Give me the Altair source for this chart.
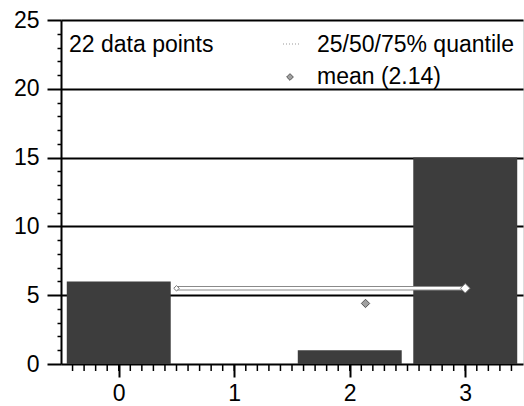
import altair as alt
import pandas as pd

# Histogram of the observed values
values = [0, 1, 2, 3]
counts = [6, 0, 1, 15]

# Summary statistics drawn across the bars
q25 = 0.5
q50 = 3.0
q75 = 3.0
quantile_level = 5.5
mean_level = 4.4

n_points = sum(counts)
mean_value = sum(v * c for v, c in zip(values, counts)) / n_points

FONT = "Liberation Sans"
FS = 23
BAR_HALF = 0.45

bars_df = pd.DataFrame({"value": values, "count": counts})
bars_df["lo"] = bars_df["value"] - BAR_HALF
bars_df["hi"] = bars_df["value"] + BAR_HALF

x_scale = alt.Scale(domain=[-0.5, 3.5], nice=False, zero=False)
y_scale = alt.Scale(domain=[0, 25], nice=False)

# Minor tick positions: tenths on x, units on y (long ones at multiples of 5)
x_minor = [round(-0.4 + 0.1 * i, 1) for i in range(39)]
y_tick_vals = list(range(0, 26))
is_five = "datum.value % 5 == 0"

x_axis = alt.Axis(
    values=values, tickCount=200, title=None, grid=False, format="d",
    labelOverlap=False, labelFlush=False,
    domainColor="black", domainWidth=2, tickColor="black", tickWidth=2,
    tickSize=13, labelFont=FONT, labelFontSize=FS, labelColor="black",
    labelPadding=5, orient="bottom",
)
y_axis = alt.Axis(
    values=y_tick_vals, tickCount=200, title=None, grid=True,
    labelExpr=f"{is_five} ? format(datum.value, 'd') : ''",
    labelOverlap=False, labelFlush=False,
    gridColor="black", gridWidth=2,
    gridOpacity={"condition": {"test": f"{is_five} && datum.value > 0", "value": 1}, "value": 0},
    domainColor="black", domainWidth=2, tickColor="black",
    tickWidth={"condition": {"test": is_five, "value": 2}, "value": 1.5},
    tickSize={"condition": {"test": is_five, "value": 14}, "value": 4},
    labelFont=FONT, labelFontSize=FS, labelColor="black",
    labelPadding=8, orient="left",
)

bars = alt.Chart(bars_df).mark_rect(color="#3d3d3d").encode(
    x=alt.X("lo:Q", scale=x_scale, axis=x_axis),
    x2="hi:Q",
    y=alt.Y("count:Q", scale=y_scale, axis=y_axis),
    y2=alt.datum(0),
)

# Short ticks under the x axis at every tenth
minor_x = alt.Chart(pd.DataFrame({"t": x_minor})).mark_rule(
    color="black", strokeWidth=1.5
).encode(x=alt.X("t:Q", scale=x_scale), y=alt.value(345), y2=alt.value(351))

q_df = pd.DataFrame({"lo": [q25], "hi": [q75], "y": [quantile_level]})
q_outline = alt.Chart(q_df).mark_rule(color="#8a8a8a", strokeWidth=4.5).encode(
    x="lo:Q", x2="hi:Q", y="y:Q")
q_line = alt.Chart(q_df).mark_rule(color="white", strokeWidth=2.5).encode(
    x="lo:Q", x2="hi:Q", y="y:Q")

marks_df = pd.DataFrame({
    "x": [q25, q50],
    "y": [quantile_level, quantile_level],
    "size": [30, 90],
})
q_points = alt.Chart(marks_df).mark_point(
    shape="diamond", filled=True, fill="white", stroke="#777777", strokeWidth=1,
    opacity=1,
).encode(x="x:Q", y="y:Q", size=alt.Size("size:Q", scale=None, legend=None))

mean_df = pd.DataFrame({"x": [mean_value], "y": [mean_level]})
mean_pt = alt.Chart(mean_df).mark_point(
    shape="diamond", filled=True, fill="#a0a0a0", stroke="#555555",
    strokeWidth=1, size=70, opacity=1,
).encode(x="x:Q", y="y:Q")

# Annotation block in the upper part of the plot
txt_style = dict(font=FONT, fontSize=FS, color="black", align="left", baseline="middle")
count_txt = alt.Chart(pd.DataFrame({"t": [f"{n_points} data points"]})).mark_text(**txt_style).encode(
    x=alt.value(8), y=alt.value(25), text="t:N")
q_txt = alt.Chart(pd.DataFrame({"t": ["25/50/75% quantile"]})).mark_text(**txt_style).encode(
    x=alt.value(256), y=alt.value(25), text="t:N")
mean_txt = alt.Chart(pd.DataFrame({"t": [f"mean ({mean_value:.2f})"]})).mark_text(**txt_style).encode(
    x=alt.value(256), y=alt.value(57), text="t:N")
q_key = alt.Chart(q_df).mark_rule(color="#9a9a9a", strokeWidth=1.2, strokeDash=[1, 2]).encode(
    x=alt.value(222), x2=alt.value(240), y=alt.value(24))
mean_key = alt.Chart(mean_df).mark_point(
    shape="diamond", filled=True, fill="#a0a0a0", stroke="#555555",
    strokeWidth=1, size=45, opacity=1,
).encode(x=alt.value(229), y=alt.value(57))

chart = alt.layer(
    bars, minor_x, q_outline, q_line, q_points, mean_pt,
    count_txt, q_txt, mean_txt, q_key, mean_key,
).properties(
    width=462, height=344,
    autosize=alt.AutoSizeParams(type="none"),
    padding={"left": 61, "top": 20, "right": 1, "bottom": 42},
).configure_view(stroke=None).configure(background="white")

chart.save("out.html", embed_options={"renderer": "svg", "actions": False})
